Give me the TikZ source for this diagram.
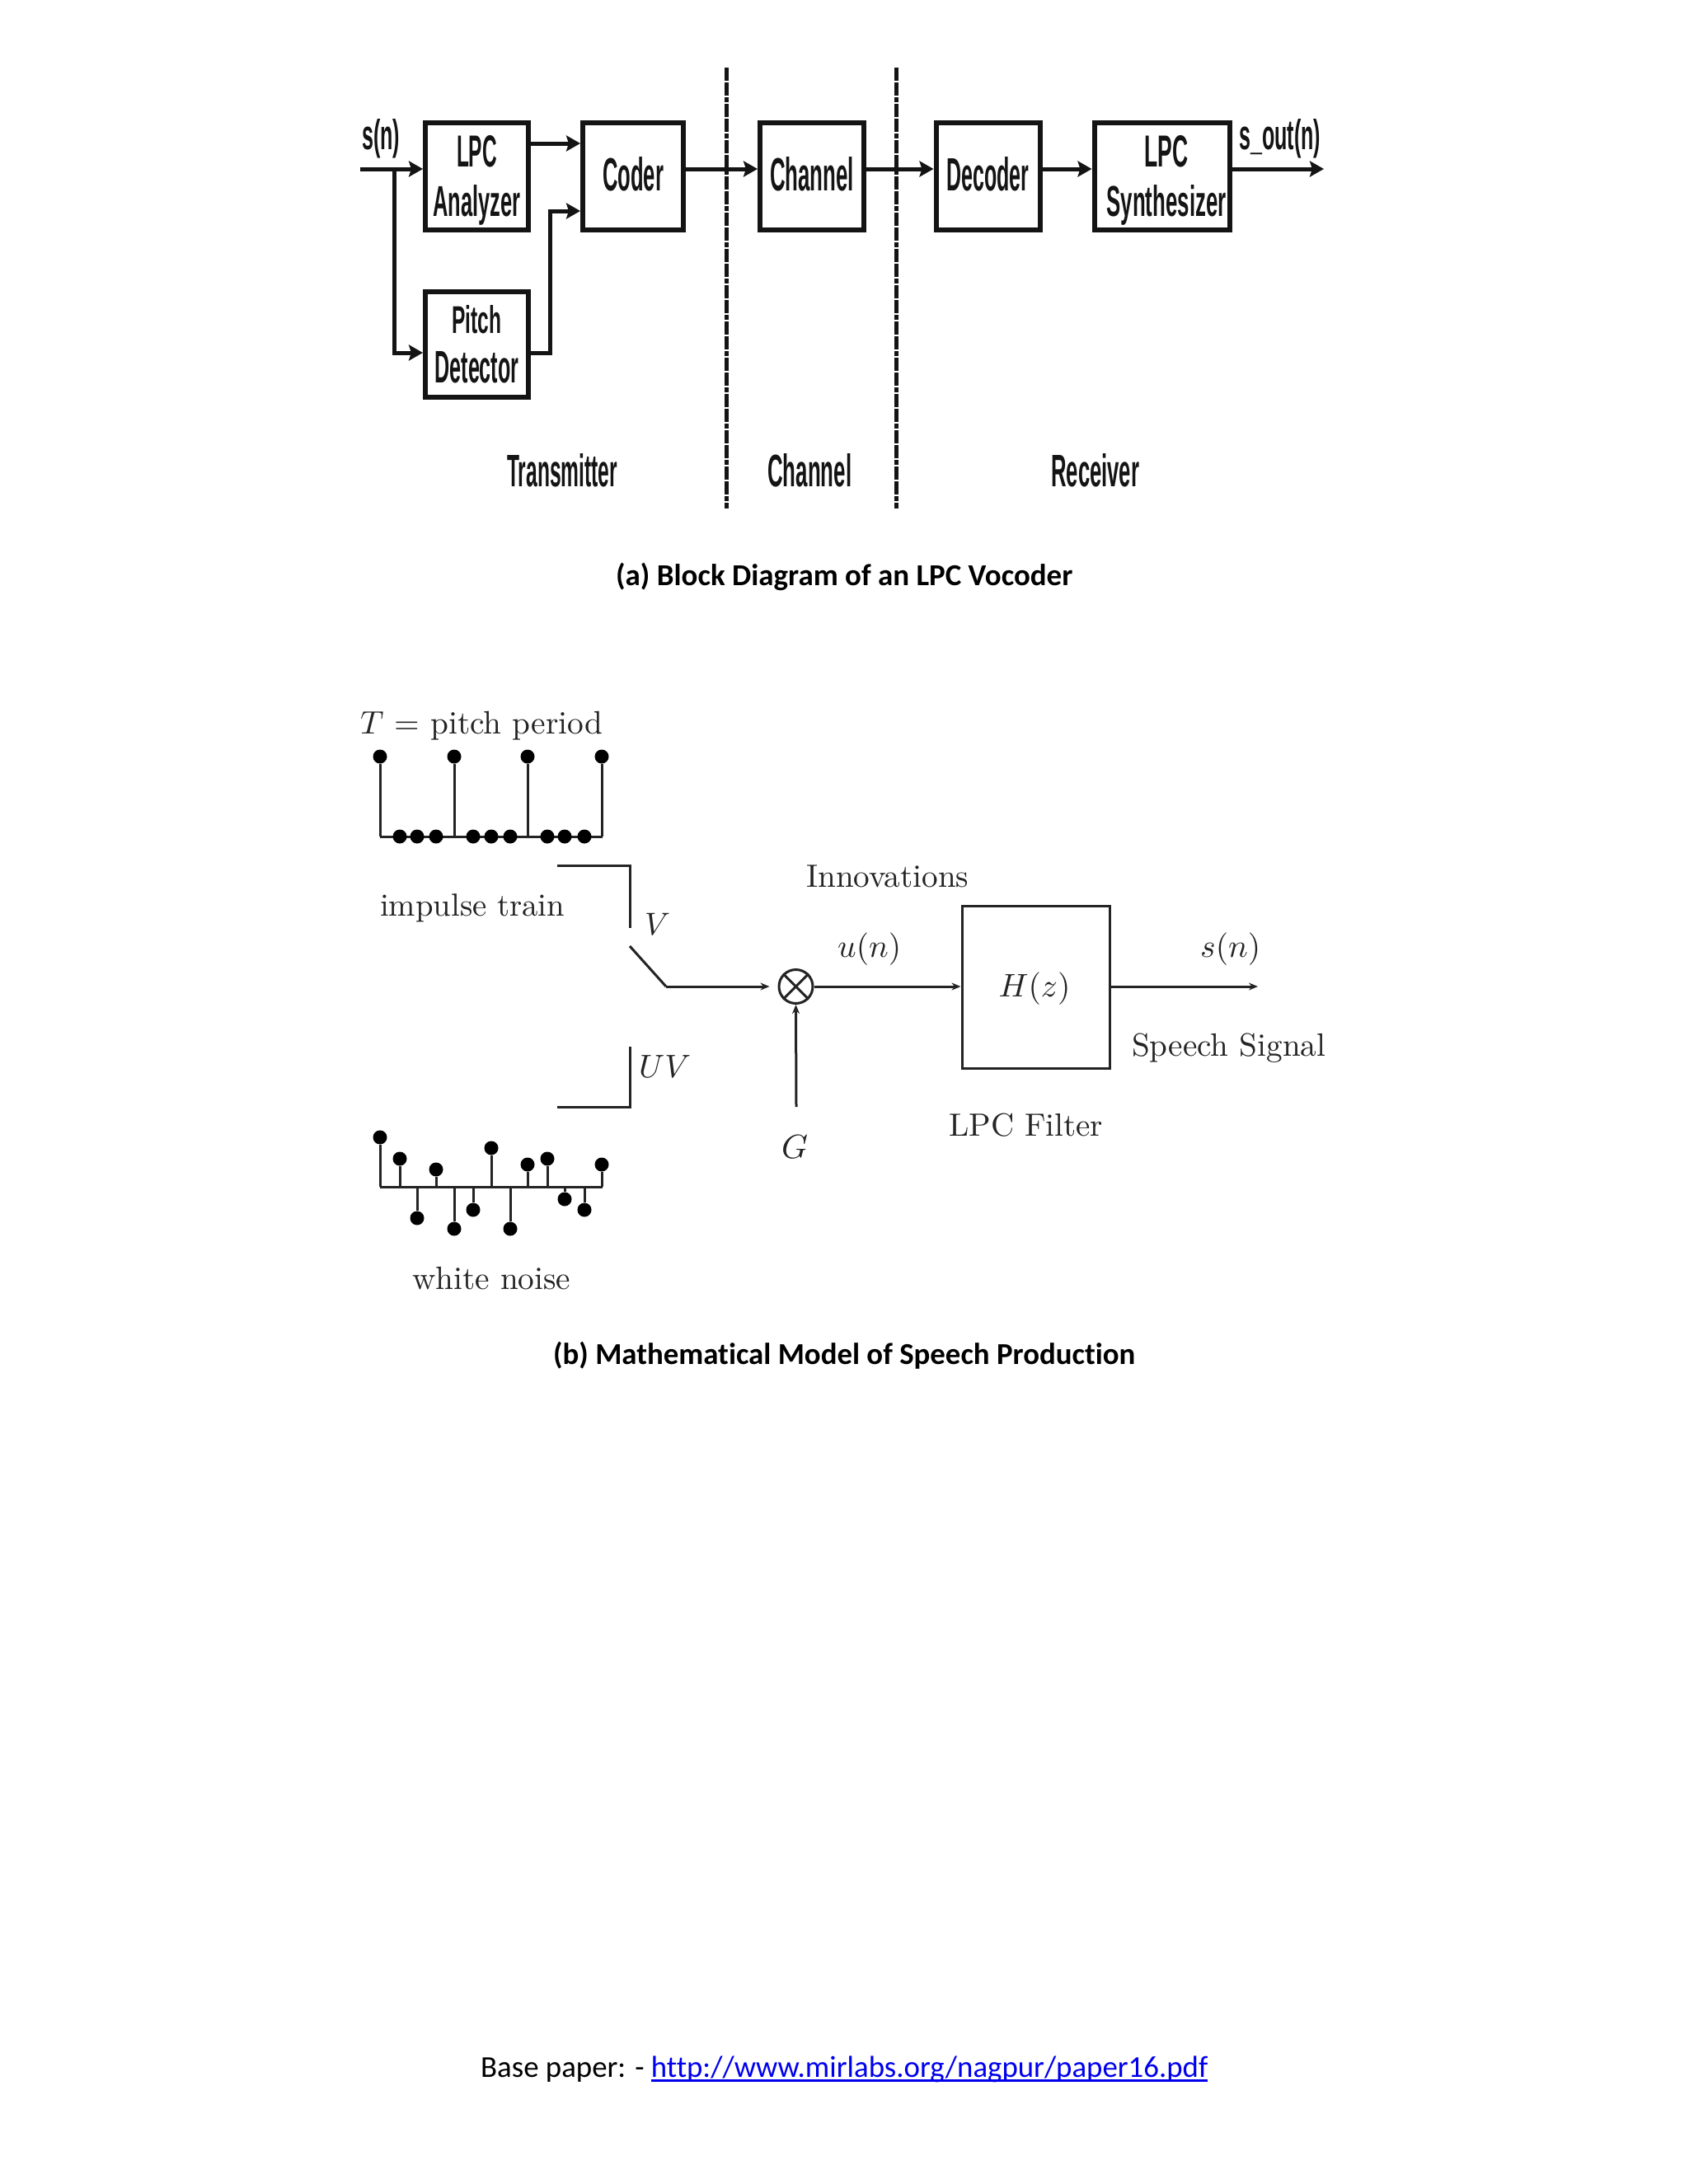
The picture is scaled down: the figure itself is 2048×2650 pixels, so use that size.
\documentclass[tikz,border=0pt]{standalone}
\usepackage{graphicx}
\usepackage{fontspec}
\usetikzlibrary{arrows.meta}
\newfontfamily\hlv{Liberation Sans}
\newfontfamily\crl{Carlito}[Ligatures=NoCommon]
\newcommand{\fitT}[3]{\resizebox{#1pt}{#2pt}{\bfseries\hlv #3}}
\newcommand{\fitW}[2]{\resizebox{#1pt}{!}{#2}}
\newsavebox{\linkbox}
\newcommand{\linkline}[1]{\sbox{\linkbox}{#1}\rlap{\usebox{\linkbox}}\raisebox{-1.5pt}{\rule{\wd\linkbox}{0.7pt}}}
\definecolor{inkA}{gray}{0.08}
\definecolor{inkB}{gray}{0.14}
\definecolor{linkblue}{HTML}{0000EE}
\tikzset{
  blk/.style={draw=inkA,line width=6pt,inner sep=0pt,fill=white,align=center,text depth=0pt,font=\fontsize{10}{60}\selectfont,text=inkA},
  onelbl/.style={text depth=6pt},
  hwire/.style={draw=inkA,line width=5pt},
  arr/.style={hwire,-{Stealth[length=17pt,width=19pt,inset=3pt]}},
  sepline/.style={draw=inkA,line width=5pt,dash pattern=on 16pt off 2pt on 16pt off 2pt on 6pt off 2pt},
  lab/.style={inner sep=0pt,anchor=base west,text=inkA},
  txt/.style={inner sep=0pt,anchor=base west,text=inkB},
  fineline/.style={draw=inkB,line width=3pt},
  finearr/.style={fineline,-{Stealth[length=11pt,width=9pt]}},
  dotnode/.style={circle,fill=black,inner sep=0pt,minimum width=17pt},
  captext/.style={inner sep=0pt,anchor=base west,text=black},
}
\begin{document}
\begin{tikzpicture}[x=1pt,y=-1pt]
\useasboundingbox (0,0) rectangle (2048,2650);
\fill[white] (0,0) rectangle (2048,2650);
% ---------- (a) block diagram
\node[blk,minimum width=125pt,minimum height=130pt] (ana) at (578.5,213.5) {\fitT{49}{38}{LPC}\\\fitT{106}{38}{Analyzer}};
\node[blk,minimum width=125pt,minimum height=128pt] (pit) at (578.5,417.5) {\fitT{60}{34}{Pitch}\\\fitT{102}{38}{Detector}};
\node[blk,onelbl,minimum width=122pt,minimum height=130pt] (cod) at (768,213.5) {\fitT{74}{41}{Coder}};
\node[blk,onelbl,minimum width=126pt,minimum height=130pt] (cha) at (985,213.5) {\fitT{102}{41}{Channel}};
\node[blk,onelbl,minimum width=126pt,minimum height=130pt] (dec) at (1198.5,213.5) {\fitT{100}{41}{Decoder}};
\node[blk,minimum width=164pt,minimum height=130pt] (syn) at (1409.5,213.5) {\hspace*{11pt}\fitT{53}{38}{LPC}\\\hspace*{11pt}\fitT{145}{38}{Synthesizer}};
\node[lab] (sin) at (439,181) {\fitT{46}{37}{s(n)}};
\node[lab] (sout) at (1503,181) {\fitT{99}{37}{s\_out(n)}};
\node[lab] (ltx) at (615,590) {\fitT{134}{40}{Transmitter}};
\node[lab] (lch) at (931,590) {\fitT{102}{40}{Channel}};
\node[lab] (lrx) at (1275,590) {\fitT{107}{40}{Receiver}};
\coordinate (in) at (437,205);
\coordinate (jn) at (478,205);
\coordinate (out) at (1606,205);
\coordinate (turn) at (667,428);
\coordinate (s1t) at (881,82); \coordinate (s1b) at (881,617);
\coordinate (s2t) at (1087,82); \coordinate (s2b) at (1087,617);
\draw[sepline] (s1t) -- (s1b);
\draw[sepline] (s2t) -- (s2b);
\draw[arr] (in) -- (in -| ana.west);
\draw[arr] (jn) |- (pit.west |- turn);
\draw[arr] (ana.east |- 0,174) -- (cod.west |- 0,174);
\draw[arr] (pit.east |- turn) -- (turn) |- (cod.west |- 0,256);
\draw[arr] (cod.east |- in) -- (cha.west |- in);
\draw[arr] (cha.east |- in) -- (dec.west |- in);
\draw[arr] (dec.east |- in) -- (syn.west |- in);
\draw[arr] (syn.east |- in) -- (out);
\node[captext] (capa) at (747,710) {\fitW{554}{\crl\bfseries (a) Block Diagram of an LPC Vocoder}};
% ---------- (b) speech model
\node[txt] (tp) at (437,890) {\fitW{294}{$T$ = pitch period}};
\node[txt] (it) at (461,1111) {\fitW{224}{impulse train}};
\node[txt] (wn) at (500,1564) {\fitW{192}{white noise}};
\node[txt] (vv) at (782,1134) {\fitW{31}{$V$}};
\node[txt] (uv) at (775,1307) {\fitW{63}{$UV$}};
\node[txt] (inn) at (978,1076) {\fitW{197}{Innovations}};
\node[txt] (un) at (1016,1161) {\fitW{77}{$u(n)$}};
\node[txt] (sn) at (1456,1161) {\fitW{73}{$s(n)$}};
\node[txt] (ss) at (1373,1281) {\fitW{235}{Speech Signal}};
\node[txt] (lf) at (1151,1378) {\fitW{187}{LPC Filter}};
\node[txt] (gg) at (948,1405) {\fitW{32}{$G$}};
\node[draw=inkB,line width=3pt,inner sep=0pt,minimum width=179pt,minimum height=197pt] (hz) at (1256.5,1198) {};
\node[txt,anchor=base] (hzt) at (1255,1209) {\fitW{87}{$H(z)$}};
\node[circle,draw=inkB,line width=3pt,inner sep=0pt,minimum width=41pt] (mul) at (965.5,1197) {};
\draw[fineline] (mul.north west) -- (mul.south east);
\draw[fineline] (mul.north east) -- (mul.south west);
% impulse train
\coordinate (tl) at (461,1015); \coordinate (tr) at (731,1015);
\draw[fineline] (tl) -- (tr);
\foreach \n/\x in {1/461,2/551,3/640,4/730}{
  \node[dotnode] (a\n) at (\x,918) {};
  \draw[fineline] (a\n) -- (a\n |- tl);
}
\foreach \n/\x in {1/485,2/506,3/529,4/574,5/596,6/619,7/664,8/685,9/709}{
  \node[dotnode] (b\n) at (\x,1015) {};
}
% white noise
\coordinate (wl) at (461,1440); \coordinate (wr) at (731,1440);
\draw[fineline] (wl) -- (wr);
\foreach \n/\x/\y in {1/461/1380,2/485/1406,3/506/1478,4/529/1419,5/551/1491,6/574/1468,7/596/1393,8/619/1491,9/640/1413,10/664/1406,11/685/1455,12/709/1468,13/730/1413}{
  \node[dotnode] (w\n) at (\x,\y) {};
  \draw[fineline] (w\n) -- (w\n |- wl);
}
% switch
\coordinate (v1) at (676,1050); \coordinate (v2) at (764,1050); \coordinate (v3) at (764,1126);
\coordinate (u1) at (676,1343); \coordinate (u2) at (764,1343); \coordinate (u3) at (764,1270);
\coordinate (arm) at (764,1148); \coordinate (piv) at (808,1197);
\draw[fineline] (v1) -- (v2) -- (v3);
\draw[fineline] (u1) -- (u2) -- (u3);
\draw[fineline] (arm) -- (piv);
\draw[finearr] (piv) -- ([xshift=-10pt]mul.west);
\draw[finearr] (mul.east) -- (hz.west |- mul.east);
\coordinate (hzout) at (1526,1197);
\draw[finearr] (hz.east |- hzout) -- (hzout);
\coordinate (gin) at (966,1343);
\draw[finearr] (gin) -- (mul.south);
\node[captext] (capb) at (671,1655) {\fitW{706}{\crl\bfseries (b) Mathematical Model of Speech Production}};
\node[captext] (foot) at (583,2520) {\fitW{882}{\crl Base paper: - \textcolor{linkblue}{\linkline{http://www.mirlabs.org/nagpur/paper16.pdf}}}};
\end{tikzpicture}
\end{document}
